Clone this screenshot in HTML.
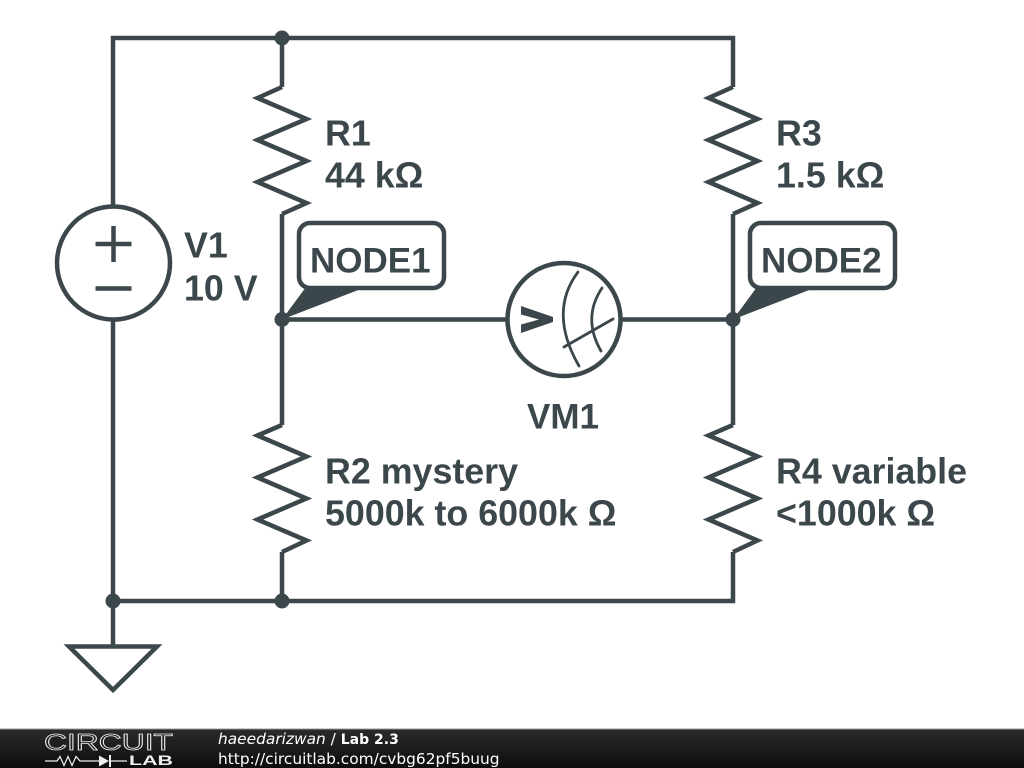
<!DOCTYPE html>
<html><head><meta charset="utf-8"><style>
html,body{margin:0;padding:0;background:#fff}
body{width:1024px;height:768px;overflow:hidden;position:relative}
svg{display:block}
</style></head><body>
<svg width="1024" height="768" viewBox="0 0 1024 768" xmlns="http://www.w3.org/2000/svg">
<defs>
<linearGradient id="bar" x1="0" y1="0" x2="0" y2="1"><stop offset="0" stop-color="#2b2b2b"/><stop offset="0.5" stop-color="#1c1c1c"/><stop offset="1" stop-color="#0c0c0c"/></linearGradient>
</defs>
<rect width="1024" height="768" fill="#fff"/>
<g fill="none" stroke="#3c474c" stroke-width="4.500">
<path d="M113 207V38H733V87M733 214V425M733 552V601H113V646M113 320V601"/>
<path d="M282 38V87M282 214V425M282 552V601"/>
<path d="M282 87L257.500 98L306.500 119L257.500 140L306.500 161L257.500 182L306.500 203L282 214"/>
<path d="M733 87L708.500 98L757.500 119L708.500 140L757.500 161L708.500 182L757.500 203L733 214"/>
<path d="M282 425L257.500 435.500L306.500 456.500L257.500 477.500L306.500 498.500L257.500 519.500L306.500 540.500L282 552"/>
<path d="M733 425L708.500 435.500L757.500 456.500L708.500 477.500L757.500 498.500L708.500 519.500L757.500 540.500L733 552"/>
<path d="M282 319.500H507M621 319.500H733"/>
<circle cx="113.500" cy="263" r="56.500"/>
<circle cx="564" cy="319.500" r="56.500"/>
<path d="M113.500 226V262M95.500 244H131.500M95.500 288.500H131.500"/>
<path d="M69 646.500H157L113 690Z" stroke-linejoin="miter"/>
<rect x="299" y="223" width="145" height="65" rx="11"/>
<rect x="750" y="223" width="145" height="65" rx="11"/>
</g>
<g fill="none" stroke="#3c474c" stroke-width="2.800" stroke-linecap="round">
<path d="M578 272Q548 312 579 366"/>
<path d="M602 288Q582 318 601 351"/>
<path d="M564 347L613 319"/>
</g>
<g fill="#3c474c">
<path d="M521 306L553 317V322L521 333V324.500L539 319.500L521 314.500Z"/>
<circle cx="282" cy="38" r="7.500"/>
<circle cx="282" cy="319.500" r="7.500"/>
<circle cx="733" cy="319.500" r="7.500"/>
<circle cx="113" cy="601" r="7.500"/>
<circle cx="282" cy="601" r="7.500"/>
<path d="M282 319.500L306 287H366Z"/>
<path d="M733 319.500L757 287H817Z"/>
</g>
<g font-family="'Liberation Sans',sans-serif" font-weight="700" font-size="35.800px" fill="#3c474c">
<text x="325" y="145.500">R1</text>
<text x="325" y="187.500">44 kΩ</text>
<text x="776" y="145.500">R3</text>
<text x="776" y="187.500">1.5 kΩ</text>
<text x="184" y="257.500">V1</text>
<text x="184" y="300.500">10 V</text>
<text x="527" y="428.500" font-size="35px">VM1</text>
<text x="325" y="483.500">R2 mystery</text>
<text x="325" y="525.500">5000k to 6000k Ω</text>
<text x="776" y="483.500">R4 variable</text>
<text x="776" y="525.500">&lt;1000k Ω</text>
<text x="310" y="272.500" font-size="35px">NODE1</text>
<text x="761" y="272.500" font-size="35px">NODE2</text>
</g>
<rect x="0" y="729" width="1024" height="39" fill="url(#bar)"/>
<rect x="0" y="728.500" width="1024" height="1" fill="#999"/>
<text x="44" y="750" font-family="'Liberation Sans',sans-serif" font-size="23px" textLength="129" lengthAdjust="spacingAndGlyphs" fill="none" stroke="#eee" stroke-width="0.800">CIRCUIT</text>
<path d="M45 761H57L60 756.500L64 765.500L68 756.500L72 765.500L76 756.500L80 761H99M110 761H127" fill="none" stroke="#eee" stroke-width="1.200"/>
<path d="M99 755.500V766.500L109 761Z" fill="#eee"/>
<rect x="109" y="755" width="2" height="12" fill="#eee"/>
<text x="129" y="765" font-family="'Liberation Sans',sans-serif" font-weight="700" font-size="14px" textLength="44" lengthAdjust="spacingAndGlyphs" fill="#eee">LAB</text>
<g font-family="'DejaVu Sans',sans-serif" font-size="15.400px" fill="#fff">
<text x="218" y="744"><tspan font-style="italic">haeedarizwan</tspan> / <tspan font-weight="700" font-size="14px">Lab 2.3</tspan></text>
<text x="218" y="764">http://circuitlab.com/cvbg62pf5buug</text>
</g>
</svg>
</body></html>
